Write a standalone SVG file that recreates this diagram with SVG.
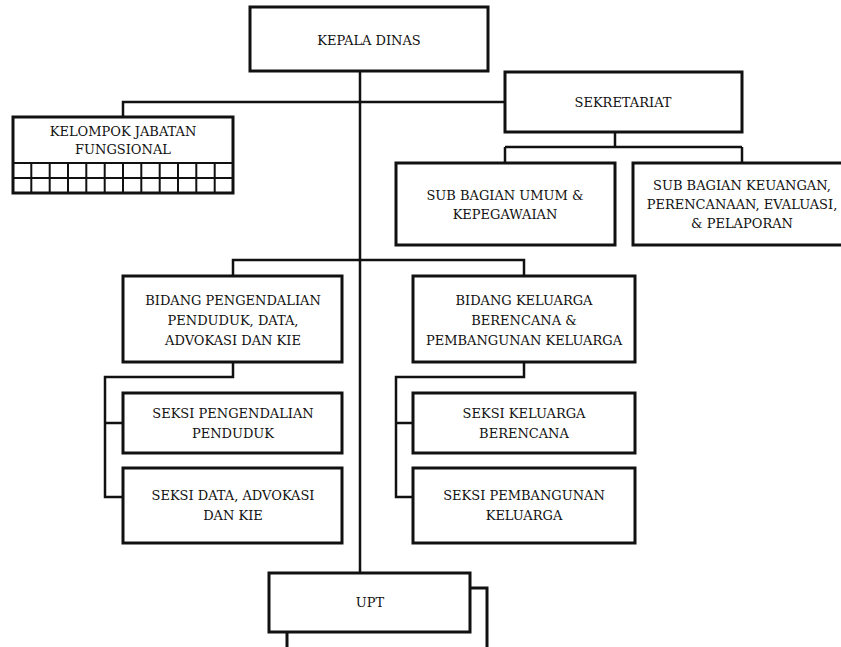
<svg xmlns="http://www.w3.org/2000/svg" width="841" height="647" viewBox="0 0 841 647">
<style>
.box{fill:#fff;stroke:#111;stroke-width:3}
.thin{fill:none;stroke:#111;stroke-width:2}
.ln{fill:none;stroke:#111;stroke-width:2.5}
text{font-family:"DejaVu Serif","Liberation Serif",serif;font-size:13px;fill:#111;text-anchor:middle;dominant-baseline:central}
</style>
<rect width="841" height="647" fill="#fff"/>
<g id="connectors">
<path class="ln" d="M360 71V573"/>
<path class="ln" d="M123 117V102H505"/>
<path class="ln" d="M615 132V147M505 147H742M505 147V163M742 147V163"/>
<path class="ln" d="M233 276V260H524V276"/>
<path class="ln" d="M233 362V377H105V497H123M105 423H123"/>
<path class="ln" d="M524 362V377H396V497H413M396 423H413"/>
</g>
<g id="kepala"><rect class="box" x="250" y="7" width="238" height="64"/><text x="369" y="40">KEPALA DINAS</text></g>
<g id="kelompok">
<rect class="box" x="13" y="117" width="220" height="76"/>
<path class="thin" d="M13 163H233M13 178H233M31.3 163V193M49.7 163V193M68 163V193M86.3 163V193M104.7 163V193M123 163V193M141.3 163V193M159.7 163V193M178 163V193M196.3 163V193M214.7 163V193"/>
<text x="123" y="131">KELOMPOK JABATAN</text><text x="123" y="149">FUNGSIONAL</text>
</g>
<g id="sekretariat"><rect class="box" x="505" y="72" width="237" height="60"/><text x="623" y="102">SEKRETARIAT</text></g>
<g id="umum"><rect class="box" x="396" y="163" width="219" height="82"/><text x="505" y="195">SUB BAGIAN UMUM &amp;</text><text x="505" y="214">KEPEGAWAIAN</text></g>
<g id="keuangan"><rect class="box" x="633" y="163" width="218" height="82"/><text x="742" y="185">SUB BAGIAN KEUANGAN,</text><text x="742" y="204">PERENCANAAN, EVALUASI,</text><text x="742" y="223">&amp; PELAPORAN</text></g>
<g id="bidang-pp"><rect class="box" x="123" y="276" width="219" height="86"/><text x="233" y="300">BIDANG PENGENDALIAN</text><text x="233" y="320">PENDUDUK, DATA,</text><text x="233" y="340">ADVOKASI DAN KIE</text></g>
<g id="bidang-kb"><rect class="box" x="413" y="276" width="222" height="86"/><text x="524" y="300">BIDANG KELUARGA</text><text x="524" y="320">BERENCANA &amp;</text><text x="524" y="340">PEMBANGUNAN KELUARGA</text></g>
<g id="seksi-pp"><rect class="box" x="123" y="393" width="219" height="60"/><text x="233" y="413">SEKSI PENGENDALIAN</text><text x="233" y="433">PENDUDUK</text></g>
<g id="seksi-data"><rect class="box" x="123" y="468" width="219" height="75"/><text x="233" y="495">SEKSI DATA, ADVOKASI</text><text x="233" y="515">DAN KIE</text></g>
<g id="seksi-kb"><rect class="box" x="413" y="393" width="222" height="60"/><text x="524" y="413">SEKSI KELUARGA</text><text x="524" y="433">BERENCANA</text></g>
<g id="seksi-pk"><rect class="box" x="413" y="468" width="222" height="75"/><text x="524" y="495">SEKSI PEMBANGUNAN</text><text x="524" y="515">KELUARGA</text></g>
<g id="upt">
<rect class="box" x="287" y="588" width="200" height="70"/>
<rect class="box" x="269" y="573" width="201" height="59"/>
<text x="370" y="602">UPT</text>
</g>
</svg>
